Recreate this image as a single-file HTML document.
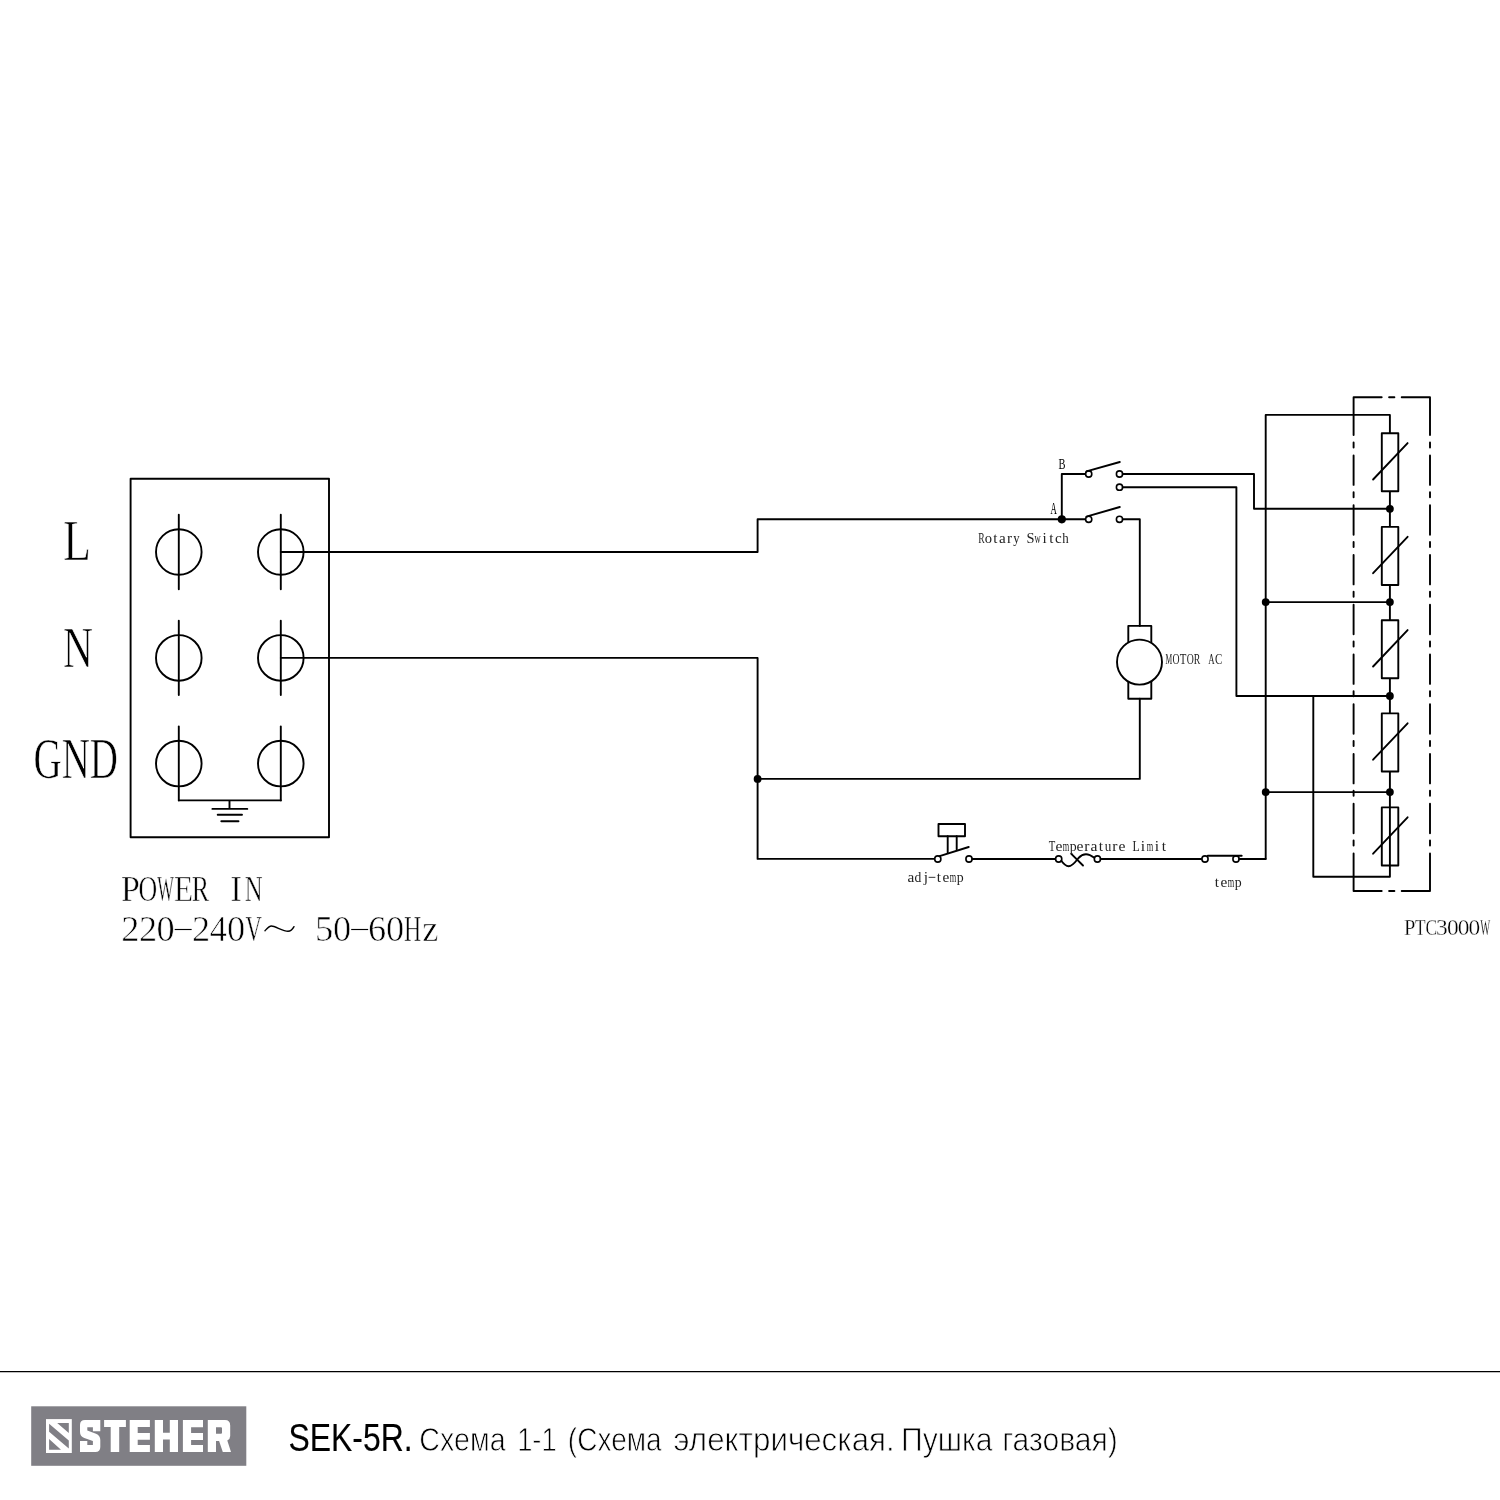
<!DOCTYPE html>
<html><head><meta charset="utf-8"><title>SEK-5R</title>
<style>html,body{margin:0;padding:0;background:#fff;width:1500px;height:1500px;overflow:hidden;font-family:"Liberation Sans",sans-serif}svg{display:block;will-change:transform}</style>
</head><body>
<svg width="1500" height="1500" viewBox="0 0 1500 1500" fill="none" stroke="#000" stroke-width="1.9" stroke-linecap="round" stroke-linejoin="round"><rect x="130.6" y="478.8" width="198.4" height="358.4" fill="none"/>
<circle cx="178.8" cy="552.0" r="22.8" fill="none"/>
<path d="M178.8 514.8V589.2"/>
<circle cx="280.8" cy="552.0" r="22.8" fill="none"/>
<path d="M280.8 514.8V589.2"/>
<circle cx="178.8" cy="657.9" r="22.8" fill="none"/>
<path d="M178.8 620.7V695.1"/>
<circle cx="280.8" cy="657.9" r="22.8" fill="none"/>
<path d="M280.8 620.7V695.1"/>
<circle cx="178.8" cy="763.6" r="22.8" fill="none"/>
<path d="M178.8 726.4V800.4"/>
<circle cx="280.8" cy="763.6" r="22.8" fill="none"/>
<path d="M280.8 726.4V800.4"/>
<path d="M178.8 800.4H280.8M229.5 800.4V808.9M212.4 808.9H247.3M217.7 814.8H242M221.3 821.2H238.5"/>
<path d="M280.8 552H757.6V519.3H1085.5"/>
<path d="M280.8 657.9H757.6V858.9H934.5"/>
<path d="M757.6 778.9H1139.8V698.7"/>
<circle cx="757.6" cy="778.9" r="3.9" fill="#000" stroke="none"/>
<path d="M1061.8 519.3V474H1085.5"/>
<circle cx="1061.8" cy="519.3" r="4.1" fill="#000" stroke="none"/>
<circle cx="1088.7" cy="474.0" r="3.1" fill="#fff" stroke-width="1.6"/>
<circle cx="1088.7" cy="519.3" r="3.1" fill="#fff" stroke-width="1.6"/>
<circle cx="1119.5" cy="474.0" r="3.1" fill="#fff" stroke-width="1.6"/>
<circle cx="1119.5" cy="487.2" r="3.1" fill="#fff" stroke-width="1.6"/>
<circle cx="1119.5" cy="519.3" r="3.1" fill="#fff" stroke-width="1.6"/>
<path d="M1086.4 471.3L1119.8 462.0M1086.4 516.6L1119.8 507.0"/>
<path d="M1122.7 519.3H1139.8V625.9"/>
<path d="M1122.7 474H1254V508.8H1389.9"/>
<path d="M1122.7 487.2H1236.4V696H1389.9"/>
<path d="M1128.3 645V625.9H1151.3V645M1128.3 680V698.7H1151.3V680"/>
<circle cx="1139.5" cy="662.1" r="22.5" fill="#fff"/>
<path d="M1265.7 858.8V414.9H1389.9V876.7H1313.3V696"/>
<path d="M1265.7 602.1H1389.9M1265.7 792.1H1389.9"/>
<rect x="1381.8" y="433.2" width="16.5" height="58.1" fill="#fff"/>
<path d="M1373.1 479.5L1407.6 443.1"/>
<rect x="1381.8" y="526.9" width="16.5" height="58.1" fill="#fff"/>
<path d="M1373.1 573.2L1407.6 536.8"/>
<rect x="1381.8" y="620.2" width="16.5" height="58.1" fill="#fff"/>
<path d="M1373.1 666.5L1407.6 630.1"/>
<rect x="1381.8" y="713.4" width="16.5" height="58.1" fill="#fff"/>
<path d="M1373.1 759.7L1407.6 723.3"/>
<rect x="1381.8" y="807.4" width="16.5" height="58.1" fill="none"/>
<path d="M1373.1 853.7L1407.6 817.3"/>
<circle cx="1389.9" cy="508.8" r="3.9" fill="#000" stroke="none"/>
<circle cx="1389.9" cy="602.1" r="3.9" fill="#000" stroke="none"/>
<circle cx="1389.9" cy="696.0" r="3.9" fill="#000" stroke="none"/>
<circle cx="1389.9" cy="792.1" r="3.9" fill="#000" stroke="none"/>
<circle cx="1265.7" cy="602.1" r="3.9" fill="#000" stroke="none"/>
<circle cx="1265.7" cy="792.1" r="3.9" fill="#000" stroke="none"/>
<path d="M1353.6 397.3V435.0M1353.6 442.5V447.5M1353.6 455.5V484.9M1353.6 492.2V497.3M1353.6 505.2V534.7M1353.6 542.0V547.0M1353.6 555.0V584.4M1353.6 591.8V596.8M1353.6 604.8V634.2M1353.6 641.5V646.5M1353.6 654.5V683.9M1353.6 691.2V696.2M1353.6 704.2V733.7M1353.6 741.0V746.0M1353.6 754.0V783.4M1353.6 790.8V795.8M1353.6 803.8V833.2M1353.6 840.5V845.5M1353.6 853.5V891.0M1430.0 397.3V435.0M1430.0 442.5V447.5M1430.0 455.5V484.9M1430.0 492.2V497.3M1430.0 505.2V534.7M1430.0 542.0V547.0M1430.0 555.0V584.4M1430.0 591.8V596.8M1430.0 604.8V634.2M1430.0 641.5V646.5M1430.0 654.5V683.9M1430.0 691.2V696.2M1430.0 704.2V733.7M1430.0 741.0V746.0M1430.0 754.0V783.4M1430.0 790.8V795.8M1430.0 803.8V833.2M1430.0 840.5V845.5M1430.0 853.5V891.0M1353.6 397.3H1381.7M1389.1 397.3H1394.4M1401.7 397.3H1430M1353.6 891.0H1381.7M1389.1 891.0H1394.4M1401.7 891.0H1430"/>
<circle cx="937.8" cy="859" r="3.1" fill="#fff" stroke-width="1.6"/>
<circle cx="969.0" cy="859" r="3.1" fill="#fff" stroke-width="1.6"/>
<path d="M939.6 856.2L968.7 847"/>
<rect x="938.5" y="824" width="26.5" height="12.2" fill="none"/>
<path d="M947.7 836.2V852.5M956.7 836.2V849.6"/>
<path d="M972.2 859H1055.5"/>
<circle cx="1058.7" cy="859" r="3.1" fill="#fff" stroke-width="1.6"/>
<circle cx="1097.4" cy="859" r="3.1" fill="#fff" stroke-width="1.6"/>
<path d="M1061.3 860.8C1064 864.5 1066 866.2 1068.5 866.2C1073 866.2 1076 861 1078.5 858C1081 855.3 1083.5 854.2 1086 854.2C1089 854.2 1092 856 1094.4 857.8"/>
<path d="M1071.3 853.8L1083 865.5"/>
<path d="M1100.6 859H1201.8"/>
<circle cx="1205.0" cy="859" r="3.1" fill="#fff" stroke-width="1.6"/>
<circle cx="1236.0" cy="859" r="3.1" fill="#fff" stroke-width="1.6"/>
<path d="M1207.8 855.7H1241.7M1239.2 859H1265.7"/>
<g font-family="Liberation Serif" stroke="none">
<text x="79.76" y="0" transform="translate(0 560.00) scale(0.7899 1)" font-size="58.03" fill="#000" font-family="Liberation Serif" stroke="#fff" stroke-width="0.7">L</text>
<text x="88.01" y="0" transform="translate(0 667.00) scale(0.7158 1)" font-size="58.03" fill="#000" font-family="Liberation Serif" stroke="#fff" stroke-width="0.7">N</text>
<text x="49.85" y="0" transform="translate(0 778.00) scale(0.6721 1)" font-size="58.03" fill="#000" font-family="Liberation Serif" stroke="#fff" stroke-width="0.7">GND</text>
<text transform="translate(120.95 900.60) scale(0.9367 1)" font-size="36.35" fill="#000" stroke="#fff" stroke-width="0.6">P</text>
<text transform="translate(138.52 900.60) scale(0.7131 1)" font-size="36.35" fill="#000" stroke="#fff" stroke-width="0.6">O</text>
<text transform="translate(157.21 900.60) scale(0.4851 1)" font-size="36.35" fill="#000" stroke="#fff" stroke-width="0.6">W</text>
<text transform="translate(173.98 900.60) scale(0.8576 1)" font-size="36.35" fill="#000" stroke="#fff" stroke-width="0.6">E</text>
<text transform="translate(191.78 900.60) scale(0.7169 1)" font-size="36.35" fill="#000" stroke="#fff" stroke-width="0.6">R</text>
<text transform="translate(230.06 900.60) scale(1.0000 1)" font-size="36.35" fill="#000" stroke="#fff" stroke-width="0.6">I</text>
<text transform="translate(244.77 900.60) scale(0.6809 1)" font-size="36.35" fill="#000" stroke="#fff" stroke-width="0.6">N</text>
<text transform="translate(121.34 941.40) scale(1.0000 1)" font-size="36.35" fill="#000" stroke="#fff" stroke-width="0.6">2</text>
<text transform="translate(138.99 941.40) scale(1.0000 1)" font-size="36.35" fill="#000" stroke="#fff" stroke-width="0.6">2</text>
<text transform="translate(156.44 941.40) scale(1.0000 1)" font-size="36.35" fill="#000" stroke="#fff" stroke-width="0.6">0</text>
<rect x="174.70" y="928.93" width="16.94" height="1.14" fill="#000" stroke="none"/>
<text transform="translate(191.94 941.40) scale(1.0000 1)" font-size="36.35" fill="#000" stroke="#fff" stroke-width="0.6">2</text>
<text transform="translate(209.87 941.40) scale(0.9402 1)" font-size="36.35" fill="#000" stroke="#fff" stroke-width="0.6">4</text>
<text transform="translate(227.04 941.40) scale(1.0000 1)" font-size="36.35" fill="#000" stroke="#fff" stroke-width="0.6">0</text>
<text transform="translate(245.58 941.40) scale(0.6246 1)" font-size="36.35" fill="#000" stroke="#fff" stroke-width="0.6">V</text>
<text transform="translate(314.94 941.40) scale(1.0000 1)" font-size="36.35" fill="#000" stroke="#fff" stroke-width="0.6">5</text>
<text transform="translate(332.94 941.40) scale(1.0000 1)" font-size="36.35" fill="#000" stroke="#fff" stroke-width="0.6">0</text>
<rect x="351.20" y="928.93" width="16.94" height="1.14" fill="#000" stroke="none"/>
<text transform="translate(368.00 941.40) scale(1.0000 1)" font-size="36.35" fill="#000" stroke="#fff" stroke-width="0.6">6</text>
<text transform="translate(385.89 941.40) scale(1.0000 1)" font-size="36.35" fill="#000" stroke="#fff" stroke-width="0.6">0</text>
<text transform="translate(403.99 941.40) scale(0.6581 1)" font-size="36.35" fill="#000" stroke="#fff" stroke-width="0.6">H</text>
<text transform="translate(422.23 941.40) scale(1.0000 1)" font-size="36.35" fill="#000" stroke="#fff" stroke-width="0.6">z</text>
<text transform="translate(978.14 542.70) scale(0.6399 1)" font-size="15.12" fill="#222" >R</text>
<text transform="translate(984.87 542.70) scale(0.9613 1)" font-size="15.12" fill="#222" >o</text>
<text transform="translate(993.37 542.70) scale(1.0000 1)" font-size="15.12" fill="#222" >t</text>
<text transform="translate(998.98 542.70) scale(1.0000 1)" font-size="15.12" fill="#222" >a</text>
<text transform="translate(1006.90 542.70) scale(1.0000 1)" font-size="15.12" fill="#222" >r</text>
<text transform="translate(1013.26 542.70) scale(0.8420 1)" font-size="15.12" fill="#222" >y</text>
<text transform="translate(1026.46 542.70) scale(0.9536 1)" font-size="15.12" fill="#222" >S</text>
<text transform="translate(1034.41 542.70) scale(0.5684 1)" font-size="15.12" fill="#222" >w</text>
<text transform="translate(1042.38 542.70) scale(1.0000 1)" font-size="15.12" fill="#222" >i</text>
<text transform="translate(1049.37 542.70) scale(1.0000 1)" font-size="15.12" fill="#222" >t</text>
<text transform="translate(1055.09 542.70) scale(1.0000 1)" font-size="15.12" fill="#222" >c</text>
<text transform="translate(1062.29 542.70) scale(0.8540 1)" font-size="15.12" fill="#222" >h</text>
<text transform="translate(1058.62 468.70) scale(0.7204 1)" font-size="14.51" fill="#000" >B</text>
<text transform="translate(1050.53 513.80) scale(0.5554 1)" font-size="15.73" fill="#000" >A</text>
<text transform="translate(1165.51 663.80) scale(0.4826 1)" font-size="15.58" fill="#222" >M</text>
<text transform="translate(1172.43 663.80) scale(0.6266 1)" font-size="15.58" fill="#222" >O</text>
<text transform="translate(1179.73 663.80) scale(0.6961 1)" font-size="15.58" fill="#222" >T</text>
<text transform="translate(1186.63 663.80) scale(0.6266 1)" font-size="15.58" fill="#222" >O</text>
<text transform="translate(1193.84 663.80) scale(0.6299 1)" font-size="15.58" fill="#222" >R</text>
<text transform="translate(1208.24 663.80) scale(0.5689 1)" font-size="15.58" fill="#222" >A</text>
<text transform="translate(1214.98 663.80) scale(0.7027 1)" font-size="15.58" fill="#222" >C</text>
<text transform="translate(1048.73 850.50) scale(0.6863 1)" font-size="15.58" fill="#222" >T</text>
<text transform="translate(1055.51 850.50) scale(1.0000 1)" font-size="15.58" fill="#222" >e</text>
<text transform="translate(1062.75 850.50) scale(0.5335 1)" font-size="15.58" fill="#222" >m</text>
<text transform="translate(1069.70 850.50) scale(0.8890 1)" font-size="15.58" fill="#222" >p</text>
<text transform="translate(1076.51 850.50) scale(1.0000 1)" font-size="15.58" fill="#222" >e</text>
<text transform="translate(1084.32 850.50) scale(1.0000 1)" font-size="15.58" fill="#222" >r</text>
<text transform="translate(1090.38 850.50) scale(1.0000 1)" font-size="15.58" fill="#222" >a</text>
<text transform="translate(1098.81 850.50) scale(1.0000 1)" font-size="15.58" fill="#222" >t</text>
<text transform="translate(1104.75 850.50) scale(0.8418 1)" font-size="15.58" fill="#222" >u</text>
<text transform="translate(1112.32 850.50) scale(1.0000 1)" font-size="15.58" fill="#222" >r</text>
<text transform="translate(1118.51 850.50) scale(1.0000 1)" font-size="15.58" fill="#222" >e</text>
<text transform="translate(1132.58 850.50) scale(0.7576 1)" font-size="15.58" fill="#222" >L</text>
<text transform="translate(1140.82 850.50) scale(1.0000 1)" font-size="15.58" fill="#222" >i</text>
<text transform="translate(1146.75 850.50) scale(0.5335 1)" font-size="15.58" fill="#222" >m</text>
<text transform="translate(1154.82 850.50) scale(1.0000 1)" font-size="15.58" fill="#222" >i</text>
<text transform="translate(1161.81 850.50) scale(1.0000 1)" font-size="15.58" fill="#222" >t</text>
<text transform="translate(907.45 882.30) scale(1.0000 1)" font-size="15.27" fill="#222" >a</text>
<text transform="translate(914.43 882.30) scale(0.8930 1)" font-size="15.27" fill="#222" >d</text>
<text transform="translate(923.75 882.30) scale(1.0000 1)" font-size="15.27" fill="#222" >j</text>
<rect x="928.64" y="876.85" width="6.72" height="0.90" fill="#222" stroke="none"/>
<text transform="translate(936.85 882.30) scale(1.0000 1)" font-size="15.27" fill="#222" >t</text>
<text transform="translate(942.58 882.30) scale(1.0000 1)" font-size="15.27" fill="#222" >e</text>
<text transform="translate(949.75 882.30) scale(0.5442 1)" font-size="15.27" fill="#222" >m</text>
<text transform="translate(956.70 882.30) scale(0.9068 1)" font-size="15.27" fill="#222" >p</text>
<text transform="translate(1214.85 887.30) scale(1.0000 1)" font-size="15.27" fill="#222" >t</text>
<text transform="translate(1220.58 887.30) scale(1.0000 1)" font-size="15.27" fill="#222" >e</text>
<text transform="translate(1227.75 887.30) scale(0.5442 1)" font-size="15.27" fill="#222" >m</text>
<text transform="translate(1234.70 887.30) scale(0.9068 1)" font-size="15.27" fill="#222" >p</text>
<text transform="translate(1404.04 934.50) scale(0.8726 1)" font-size="23.37" fill="#000" stroke="#fff" stroke-width="0.3">P</text>
<text transform="translate(1415.12 934.50) scale(0.7380 1)" font-size="23.37" fill="#000" stroke="#fff" stroke-width="0.3">T</text>
<text transform="translate(1425.52 934.50) scale(0.7450 1)" font-size="23.37" fill="#000" stroke="#fff" stroke-width="0.3">C</text>
<text transform="translate(1436.06 934.50) scale(1.0000 1)" font-size="23.37" fill="#000" stroke="#fff" stroke-width="0.3">3</text>
<text transform="translate(1446.96 934.50) scale(1.0000 1)" font-size="23.37" fill="#000" stroke="#fff" stroke-width="0.3">0</text>
<text transform="translate(1457.76 934.50) scale(1.0000 1)" font-size="23.37" fill="#000" stroke="#fff" stroke-width="0.3">0</text>
<text transform="translate(1468.56 934.50) scale(1.0000 1)" font-size="23.37" fill="#000" stroke="#fff" stroke-width="0.3">0</text>
<text transform="translate(1480.22 934.50) scale(0.4519 1)" font-size="23.37" fill="#000" stroke="#fff" stroke-width="0.3">W</text>
</g>
<path d="M265 930.7C267 928.5 269 926 271.5 926C275 926 283 931.3 288 931.3C290.5 931.3 292.5 929.5 294 926.7" stroke-width="1.4" stroke-linecap="round"/>
<path d="M0 1371.7H1500" stroke-width="1.3" stroke="#000"/>
<rect x="31.2" y="1406.3" width="215.1" height="59.5" fill="#807f85" stroke="none"/>
<rect x="46" y="1419.1" width="25.8" height="33.9" fill="#fff" stroke="none"/>
<path d="M57.2 1423H68.8V1433ZM49.1 1423.8V1431.8L68.8 1448.6V1440.6ZM49.1 1439V1449.8H61Z" fill="#807f85" stroke="none"/>
<path fill="#fff" stroke="none" fill-rule="evenodd" d="M80 1425Q80 1420 85 1420H100.3V1431.3H92.9V1427.2H87.3V1430.6L96 1433.8Q100.3 1435.5 100.3 1440V1447Q100.3 1452 95.3 1452H80V1441.1H87.3V1445.1H92.9V1441.1L84.3 1438.1Q80 1436.5 80 1432ZM104.1 1420H125.9V1427H119.2V1452H110.7V1427H104.1ZM129.7 1420H149.9V1427.1H137.7V1432.9H149.9V1439.8H137.7V1445.1H149.9V1452H129.7ZM154.8 1420H163V1432.8H169.8V1420H178V1452H169.8V1439.6H163V1452H154.8ZM182.9 1420H203V1427.2H191.1V1433.1H203V1439.9H191.1V1445H203V1452H182.9ZM207.8 1420H225Q230.2 1420 230.2 1425.5V1436Q230.2 1439 227.3 1440.6L231 1452H222.8L219.1 1441.1H216V1452H207.8ZM216 1427.2V1433.7H221Q222 1433.7 222 1432.7V1428.2Q222 1427.2 221 1427.2Z"/>
<g>
<text x="354.79" y="0" transform="translate(0 1451.00) scale(0.8133 1)" font-family="Liberation Sans" font-size="39.24" fill="#000" stroke="#000" stroke-width="0.15">SEK-5R.</text>
<text x="484.64" y="0" transform="translate(0 1450.80) scale(0.8653 1)" font-family="Liberation Sans" font-size="33.14" fill="#000" stroke="#fff" stroke-width="0.80">Схема</text>
<text x="628.52" y="0" transform="translate(0 1450.80) scale(0.8228 1)" font-family="Liberation Sans" font-size="33.14" fill="#000" stroke="#fff" stroke-width="0.80">1-1</text>
<text x="670.67" y="0" transform="translate(0 1450.80) scale(0.8467 1)" font-family="Liberation Sans" font-size="33.14" fill="#000" stroke="#fff" stroke-width="0.80">(Схема</text>
<text x="712.42" y="0" transform="translate(0 1450.80) scale(0.9455 1)" font-family="Liberation Sans" font-size="33.14" fill="#000" stroke="#fff" stroke-width="0.80">электрическая.</text>
<text x="989.83" y="0" transform="translate(0 1450.80) scale(0.9103 1)" font-family="Liberation Sans" font-size="33.14" fill="#000" stroke="#fff" stroke-width="0.80">Пушка</text>
<text x="1103.05" y="0" transform="translate(0 1450.80) scale(0.9086 1)" font-family="Liberation Sans" font-size="33.14" fill="#000" stroke="#fff" stroke-width="0.80">газовая)</text>
</g></svg>
</body></html>
